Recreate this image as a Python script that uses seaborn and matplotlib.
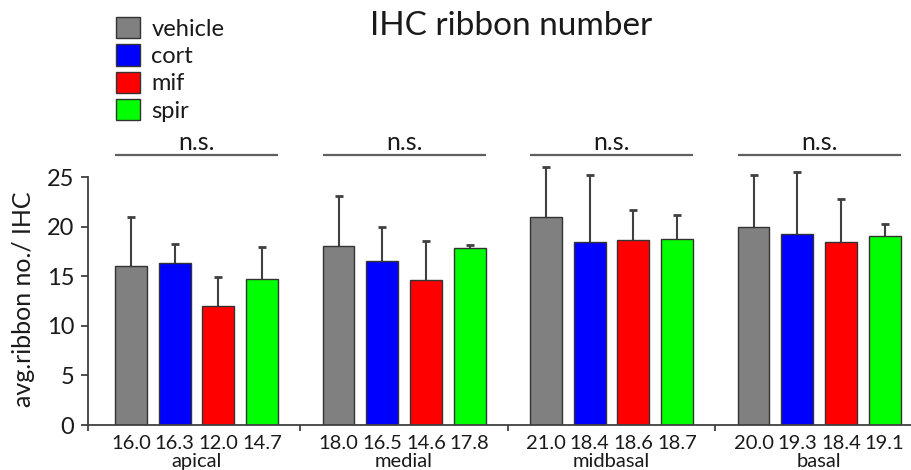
import numpy as np
import pandas as pd
import matplotlib
matplotlib.use("Agg")
import matplotlib.pyplot as plt
from matplotlib.container import BarContainer
import seaborn as sns

# ---------------- data ----------------
regions = ["apical", "medial", "midbasal", "basal"]
treatments = ["vehicle", "cort", "mif", "spir"]
colors = ["#808080", "#0000FF", "#FF0000", "#00FF00"]

vehicle_mean = [16.0, 18.0, 21.0, 20.0]
cort_mean = [16.3, 16.5, 18.4, 19.3]
mif_mean = [12.0, 14.6, 18.6, 18.4]
spir_mean = [14.7, 17.8, 18.7, 19.1]

vehicle_err = [5.0, 5.1, 5.0, 5.2]
cort_err = [1.9, 3.5, 6.8, 6.2]
mif_err = [2.9, 3.9, 3.1, 4.4]
spir_err = [3.2, 0.3, 2.5, 1.2]

sig_labels = ["n.s.", "n.s.", "n.s.", "n.s."]
title = "IHC ribbon number"
ylabel = "avg.ribbon no./ IHC"
yticks = [0, 5, 10, 15, 20, 25]

means = [vehicle_mean, cort_mean, mif_mean, spir_mean]
errs = [vehicle_err, cort_err, mif_err, spir_err]

rows = []
for t, m, e in zip(treatments, means, errs):
    for r, v, s in zip(regions, m, e):
        rows.append({"region": r, "treatment": t, "value": v, "err": s})
df = pd.DataFrame(rows)

# ---------------- style ----------------
sns.set_theme(style="ticks")
FONT = ["Lato", "DejaVu Sans"]
plt.rcParams["font.family"] = FONT
TXT = "#1a1a1a"
AXC = "#404040"

W, H = 911, 470
fig = plt.figure(figsize=(W / 100, H / 100), dpi=100)
ax_left, ax_bottom = 88 / W, 45 / H
ax = fig.add_axes([ax_left, ax_bottom, 1 - ax_left, 1 - ax_bottom])

sns.barplot(data=df, x="region", y="value", hue="treatment",
            order=regions, hue_order=treatments, palette=colors,
            width=0.842, gap=0.27, edgecolor="#333333", linewidth=1.0,
            errorbar=None, saturation=1, ax=ax, zorder=2)

ymax = 425 / 9.92
ax.set_ylim(0, ymax)
xmin, xmax = -0.523, 3.443
ax.set_xlim(xmin, xmax)

bar_containers = [c for c in ax.containers if isinstance(c, BarContainer)]

# error bars (upper only) from the bar containers
for cont, t in zip(bar_containers, treatments):
    sub = df[df.treatment == t].set_index("region").loc[regions]
    bars = sorted(cont.patches, key=lambda p: p.get_x())
    xs = [p.get_x() + p.get_width() / 2 for p in bars]
    hs = [p.get_height() for p in bars]
    eb = ax.errorbar(xs, hs, yerr=[np.zeros(len(hs)), sub["err"].values],
                     fmt="none", ecolor=AXC, elinewidth=1.5, capsize=3,
                     capthick=2, zorder=1)
    # drop the lower caps (they sit on the bar tops)
    if len(eb[1]) == 2:
        eb[1][0].remove()
    for x, v in zip(xs, sub["value"].values):
        ax.text(x, -1.85, f"{v:.1f}", ha="center", va="center",
                fontsize=14.5, color=TXT, clip_on=False)

# group labels + significance bars
allbars = [p for c in bar_containers for p in c.patches]
for i, (r, s) in enumerate(zip(regions, sig_labels)):
    gb = [p for p in allbars if abs(p.get_x() + p.get_width() / 2 - i) < 0.5]
    x0 = min(p.get_x() for p in gb)
    x1 = max(p.get_x() + p.get_width() for p in gb)
    ax.text(i, -3.7, r, ha="center", va="center", fontsize=14.5,
            color=TXT, clip_on=False)
    ax.plot([x0, x1], [27.2, 27.2], color="#606060", lw=1.6,
            solid_capstyle="butt", clip_on=False)
    ax.text((x0 + x1) / 2, 27.35, s, ha="center", va="bottom",
            fontsize=18, color=TXT)

# axes styling
sns.despine(ax=ax, top=True, right=True)
ax.spines["left"].set_bounds(0, 25)
for sp in ("left", "bottom"):
    ax.spines[sp].set_color(AXC)
    ax.spines[sp].set_linewidth(1.3)
ax.set_yticks(yticks)
ax.set_yticklabels([str(v) for v in yticks])
ax.tick_params(axis="y", direction="out", length=5, width=1.3,
               color=AXC, labelsize=17, labelcolor=TXT, pad=5)
ax.set_xticks([xmin, 0.5, 1.5, 2.5])
ax.set_xticklabels([])
ax.tick_params(axis="x", direction="out", length=4, width=1.3, color=AXC)
ax.set_xlabel("")
ax.set_ylabel(ylabel, fontsize=18, color=TXT)
ax.yaxis.set_label_coords(-0.064, (470 - 299 - 45) / 425)

# legend
handles, labels = ax.get_legend_handles_labels()
if ax.get_legend() is not None:
    ax.get_legend().remove()
fig.legend(handles, labels, loc="upper left",
           bbox_to_anchor=(116 / W, 1 - 17 / H), frameon=False,
           fontsize=17, handlelength=1.0, handleheight=1.0,
           handletextpad=0.5, labelspacing=0.2, borderpad=0,
           borderaxespad=0, labelcolor=TXT)

fig.text(511.5 / W, 1 - 26 / H, title, ha="center", va="center",
         fontsize=24, color=TXT)

fig.savefig("out.png", dpi=100)
